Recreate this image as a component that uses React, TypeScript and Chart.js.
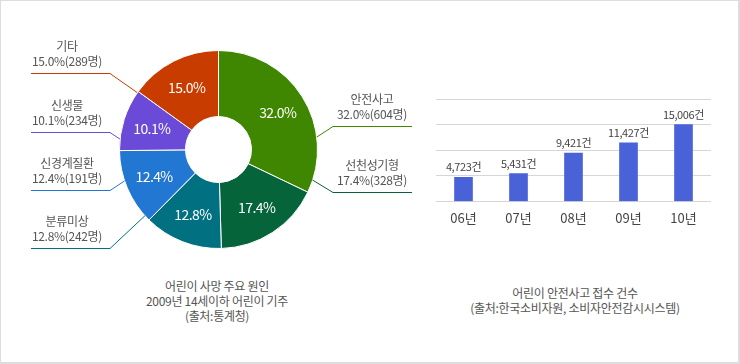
import React, { useEffect, useRef } from 'react';
import { Chart, registerables } from 'chart.js';

Chart.register(...registerables);

// ---- Data: causes of child deaths (2009, age 14 and under) ----
const causeNames = ['안전사고', '선천성기형', '분류미상', '신경계질환', '신생물', '기타'];
const causeShares = [32.0, 17.4, 12.8, 12.4, 10.1, 15.0];
const causeCounts = [604, 328, 242, 191, 234, 289];
const causeColors = ['#3f8700', '#05643a', '#017181', '#2277d2', '#6a4ad6', '#c93c00'];

// ---- Data: child safety-accident reports ----
const years = ['06년', '07년', '08년', '09년', '10년'];
const reports = [4723, 5431, 9421, 11427, 15006];
const yTicks = [0, 5000, 10000, 15000, 20000];

// ---- Layout of external pie labels ----
const labelSide = ['right', 'right', 'left', 'left', 'left', 'left'];
const labelLineY = [126, 192, 248, 190, 132, 73];
const leaderAngles = [82.8, 108, 228, 251.5, 276, 305];

const FONT = "'Noto Sans CJK KR', 'Noto Sans', sans-serif";

const doughnutLabels = {
  id: 'doughnutLabels',
  afterDatasetsDraw(chart: any) {
    const ctx = chart.ctx as CanvasRenderingContext2D;
    const meta = chart.getDatasetMeta(0);
    ctx.save();
    meta.data.forEach((arc: any, i: number) => {
      const p = arc.getProps(['x', 'y', 'startAngle', 'endAngle', 'innerRadius', 'outerRadius'], true);
      const mid = (p.startAngle + p.endAngle) / 2;
      const r = p.innerRadius + (p.outerRadius - p.innerRadius) * 0.56;
      // inner value label
      ctx.fillStyle = '#ffffff';
      ctx.font = `400 14px ${FONT}`;
      (ctx as any).letterSpacing = '-0.6px';
      ctx.textAlign = 'center';
      ctx.textBaseline = 'middle';
      ctx.fillText(causeShares[i].toFixed(1) + '%', p.x + Math.cos(mid) * r, p.y + Math.sin(mid) * r);
      (ctx as any).letterSpacing = '0px';

      // leader line
      const a = ((leaderAngles[i] - 90) * Math.PI) / 180;
      const sx = p.x + Math.cos(a) * p.outerRadius;
      const sy = p.y + Math.sin(a) * p.outerRadius;
      const ly = Math.round(labelLineY[i]) + 0.5;
      const left = labelSide[i] === 'left';
      const elbowX = left ? 110 : 333;
      const endX = left ? 31 : 412;
      const cx = left ? 67 : 372;
      ctx.strokeStyle = causeColors[i];
      ctx.lineWidth = 1;
      ctx.beginPath();
      ctx.moveTo(sx, sy);
      ctx.lineTo(elbowX, ly);
      ctx.lineTo(endX, ly);
      ctx.stroke();

      // external texts
      ctx.fillStyle = '#555555';
      ctx.font = `12px ${FONT}`;
      (ctx as any).letterSpacing = '-0.3px';
      ctx.fillText(causeNames[i], cx, ly - 27.5);
      ctx.fillText(`${causeShares[i].toFixed(1)}%(${causeCounts[i]}명)`, cx, ly - 12);
      (ctx as any).letterSpacing = '0px';
    });
    ctx.restore();
  },
};

const barLabels = {
  id: 'barLabels',
  afterDatasetsDraw(chart: any) {
    const ctx = chart.ctx as CanvasRenderingContext2D;
    const meta = chart.getDatasetMeta(0);
    ctx.save();
    ctx.fillStyle = '#444444';
    ctx.font = `11px ${FONT}`;
    (ctx as any).letterSpacing = '-0.4px';
    ctx.textAlign = 'center';
    ctx.textBaseline = 'middle';
    meta.data.forEach((bar: any, i: number) => {
      ctx.fillText(reports[i].toLocaleString('en-US') + '건', bar.x, bar.y - 10);
    });
    ctx.restore();
  },
};

export default function App() {
  const pieRef = useRef<HTMLCanvasElement>(null);
  const barRef = useRef<HTMLCanvasElement>(null);

  useEffect(() => {
    const pie = new Chart(pieRef.current as HTMLCanvasElement, {
      type: 'doughnut',
      data: {
        labels: causeNames,
        datasets: [
          {
            data: causeShares,
            backgroundColor: causeColors,
            borderColor: '#ffffff',
            borderWidth: 1,
          },
        ],
      },
      options: {
        responsive: false,
        animation: false,
        cutout: 33,
        layout: { padding: { left: 119, top: 50, right: 102, bottom: 21 } },
        plugins: { legend: { display: false }, tooltip: { enabled: false } },
      },
      plugins: [doughnutLabels],
    } as any);

    const bar = new Chart(barRef.current as HTMLCanvasElement, {
      type: 'bar',
      data: {
        labels: years,
        datasets: [{ data: reports, backgroundColor: '#4a62d8', barThickness: 18 }],
      },
      options: {
        responsive: false,
        animation: false,
        layout: { padding: { left: 36, right: 29, top: 19, bottom: 0 } },
        plugins: { legend: { display: false }, tooltip: { enabled: false } },
        scales: {
          x: {
            grid: { display: false, drawTicks: false },
            border: { display: false },
            ticks: { font: { size: 13, family: FONT }, color: '#444444', padding: 9 },
          },
          y: {
            min: 0,
            max: 20000,
            afterBuildTicks: (s: any) => {
              s.ticks = yTicks.map((v) => ({ value: v }));
            },
            ticks: { display: false },
            grid: { color: '#d6d6d6', drawTicks: false },
            border: { display: false },
          },
        },
      },
      plugins: [barLabels],
    } as any);

    return () => {
      pie.destroy();
      bar.destroy();
    };
  }, []);

  const caption: React.CSSProperties = {
    position: 'absolute',
    textAlign: 'center',
    fontFamily: FONT,
    fontSize: 12,
    lineHeight: '15px',
    color: '#555555',
    letterSpacing: '-0.3px',
    whiteSpace: 'nowrap',
  };

  return (
    <div style={{ position: 'absolute', left: 0, top: 0, width: 740, height: 364, background: '#ffffff', overflow: 'hidden' }}>
      <canvas ref={pieRef} width={420} height={270} style={{ position: 'absolute', left: 0, top: 0 }} />
      <canvas ref={barRef} width={340} height={155} style={{ position: 'absolute', left: 400, top: 80 }} />
      <div style={{ ...caption, left: 117, width: 200, top: 278 }}>
        어린이 사망 주요 원인
        <br />
        2009년 14세이하 어린이 기주
        <br />
        (출처:통계청)
      </div>
      <div style={{ ...caption, left: 425, width: 300, top: 285 }}>
        어린이 안전사고 접수 건수
        <br />
        (출처:한국소비자원, 소비자안전감시시스템)
      </div>
      <div
        style={{
          position: 'absolute',
          inset: 0,
          boxSizing: 'border-box',
          borderTop: '1px solid #dddddd',
          borderLeft: '1px solid #dddddd',
          borderRight: '2px solid #dddddd',
          borderBottom: '2px solid #dddddd',
          pointerEvents: 'none',
        }}
      />
    </div>
  );
}
